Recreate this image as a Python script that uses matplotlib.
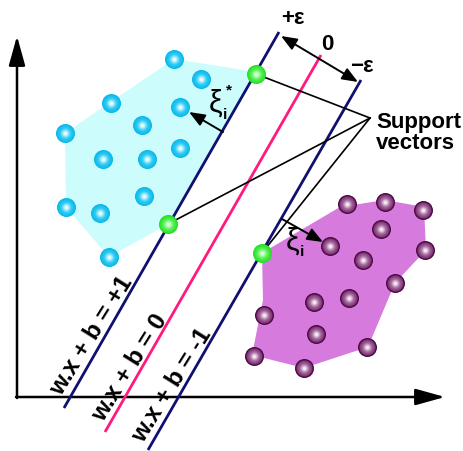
import numpy as np
import matplotlib
matplotlib.use("Agg")
import matplotlib.pyplot as plt
from matplotlib.colors import to_rgb
from matplotlib.patches import Polygon

plt.rcParams['font.family'] = ['Liberation Sans', 'DejaVu Sans']

# ---- data (pixel-like coordinates, y downward) ----
cyan_x = [174, 201, 111, 180, 142, 65, 103, 147, 180, 144, 66, 100, 109]
cyan_y = [59, 79, 103, 107, 125, 133, 159, 159, 148, 196, 207, 213, 257]
magenta_x = [347, 385, 423, 381, 425, 330, 363, 395, 314, 349, 264, 316, 367, 254, 304]
magenta_y = [204, 202, 210, 229, 250, 246, 260, 283, 302, 298, 315, 334, 347, 356, 368]
support_x = [256, 168, 262]
support_y = [74, 224, 253]
cyan_hull_x = [174, 256, 168, 109, 66, 65]
cyan_hull_y = [59, 72, 224, 257, 207, 133]
mag_hull_x = [262, 340, 385, 424, 426, 395, 368, 304, 252, 263]
mag_hull_y = [253, 207, 200, 207, 250, 283, 347, 368, 355, 300]
# margin lines: (x_top, y_top, x_bottom, y_bottom)
plus_line = (279, 32, 64, 408)
zero_line = (321, 55, 105, 432)
minus_line = (361, 80, 148, 450)
eq_labels = ["w.x + b = +1", "w.x + b = 0", "w.x + b = -1"]
eq_pos = [(92, 336), (130, 368), (172, 385)]

W, H = 463, 451
fig = plt.figure(figsize=(W / 100, H / 100), dpi=100)
ax = fig.add_axes([0, 0, 1, 1])
ax.set_xlim(0, W)
ax.set_ylim(H, 0)
ax.axis('off')

# hulls
ax.add_patch(Polygon(np.column_stack([cyan_hull_x, cyan_hull_y]), closed=True,
                     facecolor='#ccfcfc', edgecolor='none', zorder=1))
ax.add_patch(Polygon(np.column_stack([mag_hull_x, mag_hull_y]), closed=True,
                     facecolor='#d77ade', edgecolor='none', zorder=1))

# axes arrows
ax.annotate('', xy=(17, 36), xytext=(17, 398),
            arrowprops=dict(arrowstyle='-|>,head_length=1.8,head_width=0.5',
                            color='black', lw=1.8, shrinkA=0, shrinkB=0), zorder=2)
ax.annotate('', xy=(445, 397), xytext=(16, 397),
            arrowprops=dict(arrowstyle='-|>,head_length=1.8,head_width=0.5',
                            color='black', lw=1.8, shrinkA=0, shrinkB=0), zorder=2)

# lines
for ln, col in [(plus_line, '#101070'), (zero_line, '#ff1a80'), (minus_line, '#101070')]:
    ax.plot([ln[0], ln[2]], [ln[1], ln[3]], color=col, lw=2.0, zorder=3,
            solid_capstyle='butt')

# support vector pointer lines
apex = (370, 118)
for sx, sy in zip(support_x, support_y):
    ax.plot([apex[0], sx], [apex[1], sy], color='black', lw=1.2, zorder=3)

small_head = 'head_length=0.95,head_width=0.38'
# epsilon double arrow
ax.annotate('', xy=(358, 82), xytext=(281, 36),
            arrowprops=dict(arrowstyle='<|-|>,' + small_head, color='black', lw=1.4,
                            shrinkA=0, shrinkB=0), zorder=4)
# slack arrows
ax.annotate('', xy=(189, 112), xytext=(223, 132),
            arrowprops=dict(arrowstyle='-|>,' + small_head, color='black', lw=1.4,
                            shrinkA=0, shrinkB=0), zorder=4)
ax.annotate('', xy=(323, 242), xytext=(282, 219),
            arrowprops=dict(arrowstyle='-|>,' + small_head, color='black', lw=1.4,
                            shrinkA=0, shrinkB=0), zorder=4)


def spheres(xs, ys, edge, body, center, r=9.5, n=14, outline=None, zo=5):
    e = np.array(to_rgb(edge)); b = np.array(to_rgb(body)); c = np.array(to_rgb(center))
    pt = 72 / 100
    if outline is not None:
        ax.scatter(xs, ys, s=(2 * r * pt) ** 2, color=outline, linewidths=0, zorder=zo)
        r = r - 1.4
    for k in range(n):
        t = k / (n - 1)
        rad = r * (1 - 0.85 * t)
        if t < 0.5:
            col = e + (b - e) * (t / 0.5)
        else:
            col = b + (c - b) * ((t - 0.5) / 0.5)
        ax.scatter(xs, ys, s=(2 * rad * pt) ** 2, color=np.clip(col, 0, 1),
                   linewidths=0, zorder=zo + 0.01 * k)


spheres(cyan_x, cyan_y, '#08b8ea', '#30ccf4', '#e8fbff')
spheres(magenta_x, magenta_y, '#7a3070', '#a86aa0', '#f8eef6', outline='#4a0a44')
spheres(support_x, support_y, '#22e022', '#55f055', '#d8ffd8')

# text
fs = 16
bold = dict(fontweight='bold', zorder=6)
ax.text(293, 19, '+ε', fontsize=fs, ha='center', va='center', **bold)
ax.text(327, 45, '0', fontsize=fs, ha='center', va='center', **bold)
ax.text(362, 67, '−ε', fontsize=fs, ha='center', va='center', **bold)
ax.text(376, 133, 'Support\nvectors', fontsize=fs, ha='left', va='center',
        linespacing=1.05, **bold)
# slack labels
ax.text(216, 104, 'ξ', fontsize=22, ha='center', va='center', zorder=6)
ax.text(223, 115, 'i', fontsize=11, ha='left', va='center', **bold)
ax.text(226, 90, '*', fontsize=11, ha='left', va='center', **bold)
ax.text(293, 242, 'ξ', fontsize=22, ha='center', va='center', zorder=6)
ax.text(300, 252, 'i', fontsize=11, ha='left', va='center', **bold)
for lab, (px, py) in zip(eq_labels, eq_pos):
    ax.text(px, py, lab, fontsize=17.5, ha='center', va='center', rotation=58,
            rotation_mode='anchor', **bold)

fig.savefig('out.png', dpi=100)
